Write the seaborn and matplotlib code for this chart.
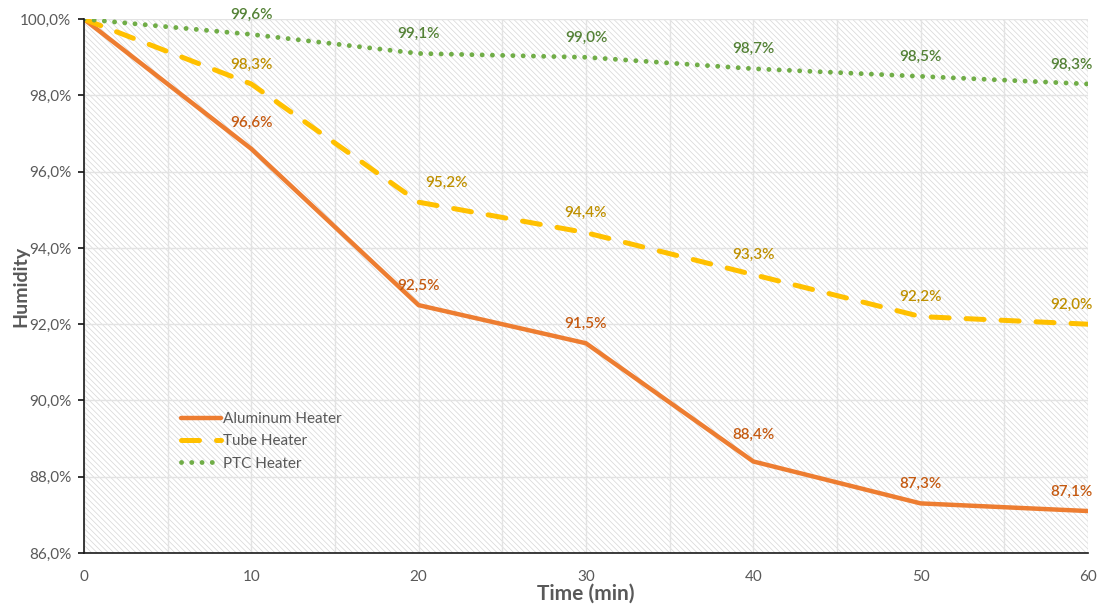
import numpy as np
import pandas as pd
import seaborn as sns
import matplotlib.pyplot as plt
from matplotlib.patches import Rectangle
from matplotlib.ticker import FuncFormatter, MultipleLocator

time_min = [0, 10, 20, 30, 40, 50, 60]
aluminum = [100.0, 96.6, 92.5, 91.5, 88.4, 87.3, 87.1]
tube = [100.0, 98.3, 95.2, 94.4, 93.3, 92.2, 92.0]
ptc = [100.0, 99.6, 99.1, 99.0, 98.7, 98.5, 98.3]

series_names = ["Aluminum Heater", "Tube Heater", "PTC Heater"]
line_colors = ["#ED7D31", "#FFC000", "#70AD47"]
label_colors = ["#C55A11", "#BF9000", "#538135"]

sns.set_theme(style="white")
plt.rcParams['font.family'] = ['Lato', 'DejaVu Sans']
plt.rcParams['hatch.linewidth'] = 0.5
plt.rcParams['hatch.color'] = '#D6D6D6'

df = pd.DataFrame({"time": time_min * 3,
                   "value": aluminum + tube + ptc,
                   "series": np.repeat(series_names, len(time_min))})

fig = plt.figure(figsize=(11.04, 6.08), dpi=100)
ax = fig.add_axes([0.076, 0.0905, 0.9095, 0.878])

# hatched plot area background
ax.add_patch(Rectangle((0, 0), 1, 1, transform=ax.transAxes, facecolor='white',
                       edgecolor='#D6D6D6', hatch='\\' * 6, lw=0, zorder=0))

styles = {
    "Aluminum Heater": dict(linestyle='-', linewidth=3.2),
    "Tube Heater": dict(linestyle=(0, (3.6, 3.4)), linewidth=3.6, dash_capstyle='round'),
    "PTC Heater": dict(linestyle=(0, (0.01, 2.1)), linewidth=3.5, dash_capstyle='round'),
}
for name, col in zip(series_names, line_colors):
    sub = df[df["series"] == name]
    sns.lineplot(data=sub, x="time", y="value", color=col, ax=ax, label=name,
                 zorder=3, **styles[name])

# data labels
for vals, col in zip([aluminum, tube, ptc], label_colors):
    for i, (t, v) in enumerate(zip(time_min, vals)):
        if t == 0:
            continue
        dx = 0
        if t == 60:
            dx = -12
        if vals is tube and t == 20:
            dx = 20
        dy = 14
        if vals is aluminum and t in (10, 40):
            dy = 19
        ax.annotate(f"{v:.1f}%".replace('.', ','), (t, v), xytext=(dx, dy),
                    textcoords='offset points', ha='center', va='center',
                    color=col, fontsize=11, fontweight='semibold', zorder=4)

ax.set_xlim(0, 60)
ax.set_ylim(86, 100)
ax.xaxis.set_major_locator(MultipleLocator(10))
ax.xaxis.set_minor_locator(MultipleLocator(5))
ax.yaxis.set_major_locator(MultipleLocator(2))
ax.yaxis.set_major_formatter(FuncFormatter(lambda v, p: f"{v:.1f}%".replace('.', ',')))
ax.grid(True, which='both', axis='x', color='#E3E3E3', lw=1, zorder=1)
ax.grid(True, which='major', axis='y', color='#E3E3E3', lw=1, zorder=1)
ax.set_axisbelow(True)

for s in ['top', 'right']:
    ax.spines[s].set_visible(False)
for s in ['left', 'bottom']:
    ax.spines[s].set_color('#1A1A1A')
    ax.spines[s].set_linewidth(1.2)
    ax.spines[s].set_zorder(5)

ax.tick_params(axis='y', which='major', left=True, length=4, color='#1A1A1A',
               labelsize=11, labelcolor='#595959', pad=5)
ax.tick_params(axis='x', which='both', bottom=False, labelsize=11,
               labelcolor='#595959', pad=6)

ax.set_xlabel("Time (min)", fontsize=15, fontweight='bold', color='#595959')
ax.set_ylabel("Humidity", fontsize=14, fontweight='bold', color='#595959')
ax.xaxis.set_label_coords(0.5, -0.058)
ax.yaxis.set_label_coords(-0.054, 0.5)

leg = ax.legend(loc='upper left', bbox_to_anchor=(0.083, 0.29), frameon=False,
                fontsize=11, handlelength=2.6, labelspacing=0.55, handletextpad=0.15)
for t in leg.get_texts():
    t.set_color('#595959')

fig.savefig("out.png", dpi=100)
